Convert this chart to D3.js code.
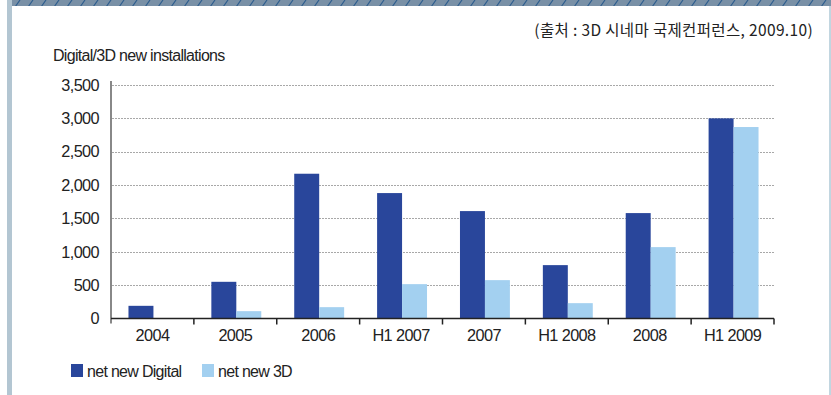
<!DOCTYPE html>
<html><head><meta charset="utf-8">
<script src="https://cdn.jsdelivr.net/npm/d3@7"></script>
<style>
html,body{margin:0;padding:0;background:#fff;}
svg{display:block;font-family:"Liberation Sans","Noto Sans CJK KR",sans-serif;}
</style></head><body>
<svg id="c" width="831" height="395"></svg>
<script>
const categories = ["2004","2005","2006","H1 2007","2007","H1 2008","2008","H1 2009"];
const digital = [190, 550, 2170, 1880, 1610, 800, 1580, 3000];
const threeD = [0, 110, 170, 515, 575, 230, 1070, 2870];
const seriesNames = ["net new Digital","net new 3D"];
const yTicks = [0,500,1000,1500,2000,2500,3000,3500];
const colors = ["#29469b","#a3d0f0"];

const svg = d3.select("#c");
const FS = 16.3;
// frame decorations
const defs = svg.append("defs");
const pat = defs.append("pattern").attr("id","hatch").attr("patternUnits","userSpaceOnUse")
  .attr("width",13).attr("height",7);
pat.append("rect").attr("width",13).attr("height",7).attr("fill","#7990a6");
pat.append("line").attr("x1",2).attr("y1",7).attr("x2",7).attr("y2",0)
  .attr("stroke","#2d5d8e").attr("stroke-width",1.2);
svg.append("rect").attr("x",12).attr("y",0).attr("width",819).attr("height",6).attr("fill","url(#hatch)");
svg.append("rect").attr("x",7).attr("y",0).attr("width",5).attr("height",395).attr("fill","#b3c6d2");
svg.append("rect").attr("x",829).attr("y",6).attr("width",2).attr("height",389).attr("fill","#c2d6e0");

const x0 = 111, x1 = 774, yTop = 85, yBase = 318.5;
const x = d3.scaleBand().domain(categories).range([x0,x1]).paddingInner(0).paddingOuter(0);
const xs = d3.scaleBand().domain(seriesNames).range([0, x.bandwidth()]).paddingInner(0).paddingOuter(0.66);
const y = d3.scaleLinear().domain([0,3500]).range([yBase,yTop]);

// gridlines
svg.append("g").selectAll("line").data(yTicks.filter(d=>d>0)).join("line")
  .attr("x1",x0+1).attr("x2",x1).attr("y1",d=>Math.round(y(d))+0.5).attr("y2",d=>Math.round(y(d))+0.5)
  .attr("stroke","#a8a8a8").attr("stroke-width",1).attr("stroke-dasharray","2,1");

// bars
const data = categories.map((c,i)=>({c, vals:[digital[i], threeD[i]]}));
const g = svg.append("g");
g.selectAll("g").data(data).join("g")
  .attr("transform",d=>`translate(${x(d.c)+1},0)`)
  .selectAll("rect").data(d=>d.vals.map((v,j)=>({v,j}))).join("rect")
  .attr("x",d=>xs(seriesNames[d.j])).attr("width",xs.bandwidth())
  .attr("y",d=>y(d.v)).attr("height",d=>yBase-y(d.v))
  .attr("fill",d=>colors[d.j]);

// y axis
const yAxis = d3.axisLeft(y).tickValues(yTicks).tickSize(0).tickPadding(12).tickFormat(d3.format(","));
const ya = svg.append("g").attr("transform",`translate(${x0},0)`).call(yAxis);
ya.select(".domain").remove();
ya.selectAll("text").attr("font-size",FS).attr("fill","#222").attr("letter-spacing","-0.6px")
  .attr("font-family","'Liberation Sans',sans-serif");
svg.append("line").attr("x1",x0).attr("x2",x0).attr("y1",yTop-4).attr("y2",yBase+5)
  .attr("stroke","#888").attr("stroke-width",2);

// x axis
const xAxis = d3.axisBottom(x).tickSize(0).tickPadding(11);
const xa = svg.append("g").attr("transform",`translate(0,${yBase})`).call(xAxis);
xa.select(".domain").remove();
xa.selectAll("text").attr("font-size",FS).attr("fill","#222").attr("letter-spacing","-0.6px")
  .attr("font-family","'Liberation Sans',sans-serif");
svg.append("line").attr("x1",x0).attr("x2",x1).attr("y1",yBase).attr("y2",yBase)
  .attr("stroke","#222").attr("stroke-width",1.5);
const tickPos = categories.slice(1).map(c=>x(c)).concat([x1]);
svg.append("g").selectAll("line").data(tickPos).join("line")
  .attr("x1",d=>d).attr("x2",d=>d).attr("y1",yBase).attr("y2",yBase+6)
  .attr("stroke","#222").attr("stroke-width",1.5);

// titles
svg.append("text").attr("x",53).attr("y",61).attr("font-size",16).attr("fill","#222")
  .attr("letter-spacing","-0.7px").text("Digital/3D new installations");
svg.append("text").attr("x",813).attr("y",36).attr("text-anchor","end").attr("font-size",15.5)
  .attr("fill","#222").attr("letter-spacing","0.35px")
  .attr("font-family","'Noto Sans CJK KR',sans-serif").text("(출처 : 3D 시네마 국제컨퍼런스, 2009.10)");

// legend
const legX = [71, 202];
const lg = svg.append("g").selectAll("g").data(seriesNames).join("g")
  .attr("transform",(d,i)=>`translate(${legX[i]},364)`);
lg.append("rect").attr("width",12).attr("height",13).attr("fill",(d,i)=>colors[i]);
lg.append("text").attr("x",16).attr("y",13).attr("font-size",16).attr("fill","#222")
  .attr("letter-spacing","-0.7px").text(d=>d);
</script>
</body></html>
